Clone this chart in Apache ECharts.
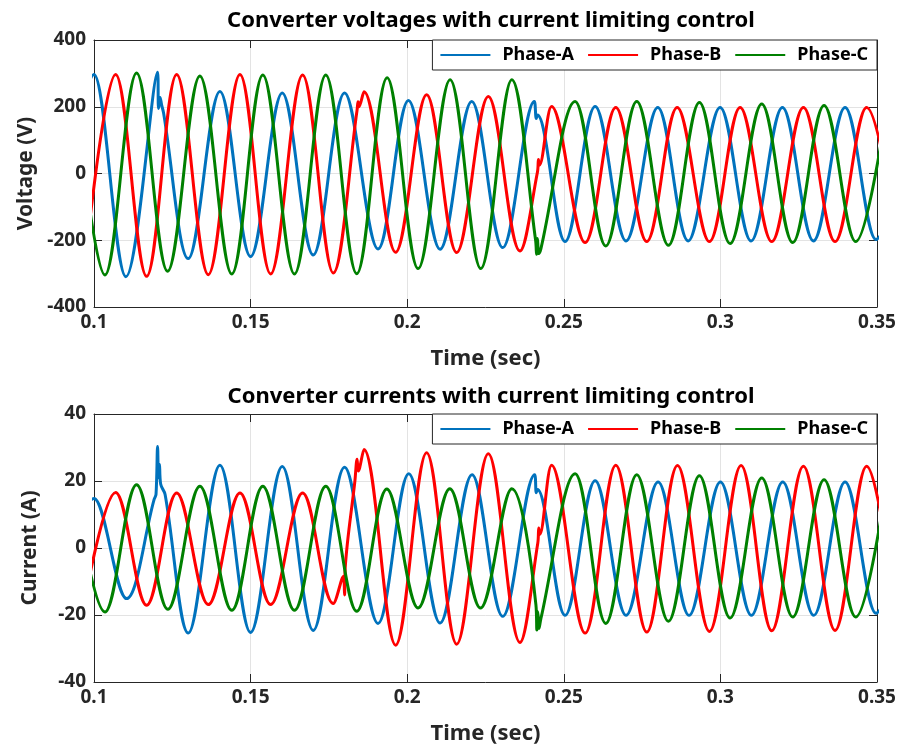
<!DOCTYPE html>
<html>
<head>
<meta charset="UTF-8">
<title>Converter voltages and currents</title>
<script src="https://cdn.jsdelivr.net/npm/echarts@6/dist/echarts.min.js"></script>
<style>
body{margin:0;background:#fff;}
#charts{width:900px;height:750px;}
</style>
</head>
<body>
<div id="charts"></div>
<script type="text/javascript">
// [time (s), value]: peaks/troughs plus a few glitch points
var voltA=[[0.0902,-300],[0.1000,297],[0.1102,-309],[0.1203,303],[0.1206,195],[0.1211,228],[0.1216,205],[0.1222,182],
	[0.1301,-255],[0.1402,246],[0.1500,-249],[0.1601,241],[0.1700,-244],[0.1800,241],[0.1907,-226],[0.2004,219],
	[0.2105,-227],[0.2206,216],[0.2305,-222],[0.2406,216],[0.2412,165],[0.2416,175],[0.2504,-204],[0.2600,201],
	[0.2699,-202],[0.2800,198],[0.2897,-202],[0.2999,198],[0.3098,-202],[0.3198,198],[0.3297,-202],[0.3398,198],
	[0.3497,-198],[0.3597,198]];
var voltB=[[0.0968,-300],[0.1069,297],[0.1168,-308],[0.1264,297],[0.1365,-303],[0.1466,297],[0.1564,-301],[0.1666,295],
	[0.1764,-298],[0.1840,190],[0.1843,215],[0.1846,200],[0.1862,245],[0.1963,-236],[0.2062,236],[0.2158,-237],
	[0.2259,231],[0.2360,-232],[0.2416,5],[0.2419,42],[0.2422,25],[0.2461,201],[0.2568,-207],[0.2666,198],
	[0.2765,-204],[0.2862,198],[0.2965,-204],[0.3063,198],[0.3164,-204],[0.3265,198],[0.3366,-204],[0.3467,198],
	[0.3567,-204]];
var voltC=[[0.0935,300],[0.1035,-304],[0.1136,301],[0.1235,-293],[0.1338,292],[0.1440,-301],[0.1539,295],[0.1640,-301],
	[0.1740,295],[0.1839,-300],[0.1936,287],[0.2035,-285],[0.2137,281],[0.2235,-285],[0.2334,281],[0.2410,-200],
	[0.2413,-242],[0.2416,-195],[0.2420,-240],[0.2427,-225],[0.2536,216],[0.2634,-217],[0.2733,216],[0.2834,-215],
	[0.2933,213],[0.3031,-210],[0.3132,208],[0.3231,-207],[0.3331,204],[0.3432,-204],[0.3532,204]];
var currA=[[0.0902,-15],[0.1000,14.8],[0.1104,-15.1],[0.1192,14.5],[0.1198,16],[0.1203,30.3],[0.1206,21],[0.1209,25],
	[0.1213,19],[0.1227,16],[0.1301,-25.4],[0.1402,24.7],[0.1500,-25.2],[0.1601,24.3],[0.1700,-24.6],[0.1800,24.1],
	[0.1907,-22.5],[0.2005,22.2],[0.2105,-22.4],[0.2207,21.9],[0.2305,-20.4],[0.2407,21.9],[0.2412,16.5],[0.2416,17.5],
	[0.2504,-20.1],[0.2600,20.1],[0.2699,-20.1],[0.2801,19.7],[0.2900,-20.1],[0.3000,19.7],[0.3099,-20.1],[0.3199,19.7],
	[0.3298,-20.1],[0.3398,19.7],[0.3497,-19.5],[0.3597,19.7]];
var currB=[[0.0968,-17],[0.1069,16.6],[0.1168,-17.1],[0.1264,16.4],[0.1365,-16.9],[0.1466,16.4],[0.1564,-16.9],[0.1666,16.4],
	[0.1764,-16.6],[0.1796,-8.5],[0.1800,-14],[0.1802,-6],[0.1833,20],[0.1840,26.5],[0.1844,23],[0.1862,29.4],
	[0.1963,-29],[0.2062,28.4],[0.2158,-28.7],[0.2259,28.1],[0.2360,-28.2],[0.2417,1.5],[0.2420,6],[0.2423,4],
	[0.2461,24.7],[0.2568,-25.4],[0.2666,24.7],[0.2765,-25.1],[0.2863,24.6],[0.2965,-24.9],[0.3066,24.6],[0.3164,-24.7],
	[0.3265,24.4],[0.3366,-24.6],[0.3467,24.4],[0.3567,-24.6]];
var currC=[[0.0935,19],[0.1035,-19.1],[0.1136,18.9],[0.1236,-18.3],[0.1338,18.4],[0.1440,-18.6],[0.1539,18.4],[0.1640,-18.6],
	[0.1740,18.4],[0.1839,-18.9],[0.1935,17.6],[0.2035,-17.9],[0.2136,17.7],[0.2234,-17.9],[0.2334,17.7],[0.2411,-17],
	[0.2414,-24.5],[0.2417,-19],[0.2421,-24],[0.2427,-21],[0.2536,22.2],[0.2634,-22.5],[0.2733,21.9],[0.2834,-21.9],
	[0.2933,21.6],[0.3031,-20.9],[0.3132,20.9],[0.3231,-20.6],[0.3331,20.4],[0.3432,-20.6],[0.3532,20.4]];
var phaseNames=['Phase-A','Phase-B','Phase-C'];
var phaseColors=['#0072BD','#FF0000','#008000'];

var FONT="'Noto Sans', sans-serif";
var INK='#262626';

function xAxes(grid){
	return [{
		gridIndex:grid,type:'value',min:0.1,max:0.35,interval:0.05,
		name:'Time (sec)',nameLocation:'middle',nameGap:41,
		nameTextStyle:{fontFamily:FONT,fontWeight:'bold',fontSize:22,color:INK},
		axisLine:{onZero:false,lineStyle:{color:INK}},
		axisTick:{inside:true,length:8,lineStyle:{color:INK}},
		axisLabel:{margin:6,fontFamily:FONT,fontWeight:'bold',fontSize:19,color:INK,
			formatter:function(v){return String(+v.toFixed(2));}},
		splitLine:{show:true,lineStyle:{color:'#e3e3e3'}}
	},{
		gridIndex:grid,type:'value',position:'top',min:0.1,max:0.35,interval:0.05,
		axisLine:{onZero:false,lineStyle:{color:INK}},
		axisTick:{inside:true,length:8,lineStyle:{color:INK}},
		axisLabel:{show:false},splitLine:{show:false}
	}];
}
function yAxes(grid,lim,step,name){
	return [{
		gridIndex:grid,type:'value',min:-lim,max:lim,interval:step,
		name:name,nameLocation:'middle',nameGap:53,
		nameTextStyle:{fontFamily:FONT,fontWeight:'bold',fontSize:21,color:INK},
		axisLine:{show:true,onZero:false,lineStyle:{color:INK}},
		axisTick:{show:true,inside:true,length:8,lineStyle:{color:INK}},
		axisLabel:{margin:8,fontFamily:FONT,fontWeight:'bold',fontSize:19,color:INK},
		splitLine:{show:true,lineStyle:{color:'#e3e3e3'}}
	},{
		gridIndex:grid,type:'value',position:'right',min:-lim,max:lim,interval:step,
		axisLine:{show:true,onZero:false,lineStyle:{color:INK}},
		axisTick:{show:true,inside:true,length:8,lineStyle:{color:INK}},
		axisLabel:{show:false},splitLine:{show:false}
	}];
}
function wave(name,color,data,axis){
	return {name:name,type:'line',xAxisIndex:axis,yAxisIndex:axis,data:data,
		smooth:0.36,symbol:'none',clip:true,
		lineStyle:{color:color,width:3},itemStyle:{color:color}};
}
function legend(top){
	return {right:23,top:top,orient:'horizontal',icon:'rect',itemWidth:50,itemHeight:2,itemGap:14,
		padding:[6,9,6,8],borderColor:INK,borderWidth:1,backgroundColor:'#fff',borderRadius:0,
		data:phaseNames,selectedMode:false,
		textStyle:{fontFamily:FONT,fontWeight:'bold',fontSize:18,color:'#000',padding:[0,0,0,7]}};
}

var mychart=echarts.init(document.getElementById('charts'));
var option={
	backgroundColor:'#fff',
	animation:false,
	title:[
		{text:'Converter voltages with current limiting control',left:486,textAlign:'center',top:5,
			textStyle:{fontFamily:FONT,fontWeight:'bold',fontSize:22,color:'#000'}},
		{text:'Converter currents with current limiting control',left:486,textAlign:'center',top:381,
			textStyle:{fontFamily:FONT,fontWeight:'bold',fontSize:22,color:'#000'}}
	],
	legend:[legend(40),legend(414)],
	grid:[
		{left:94,right:23,top:40,height:267},
		{left:94,right:23,top:414,height:268}
	],
	xAxis:xAxes(0).concat(xAxes(1)),
	yAxis:yAxes(0,400,200,'Voltage (V)').concat(yAxes(1,40,20,'Current (A)')),
	series:[
		wave(phaseNames[0],phaseColors[0],voltA,0),
		wave(phaseNames[1],phaseColors[1],voltB,0),
		wave(phaseNames[2],phaseColors[2],voltC,0),
		wave(phaseNames[0],phaseColors[0],currA,2),
		wave(phaseNames[1],phaseColors[1],currB,2),
		wave(phaseNames[2],phaseColors[2],currC,2)
	]
};
mychart.setOption(option);
</script>
</body>
</html>
